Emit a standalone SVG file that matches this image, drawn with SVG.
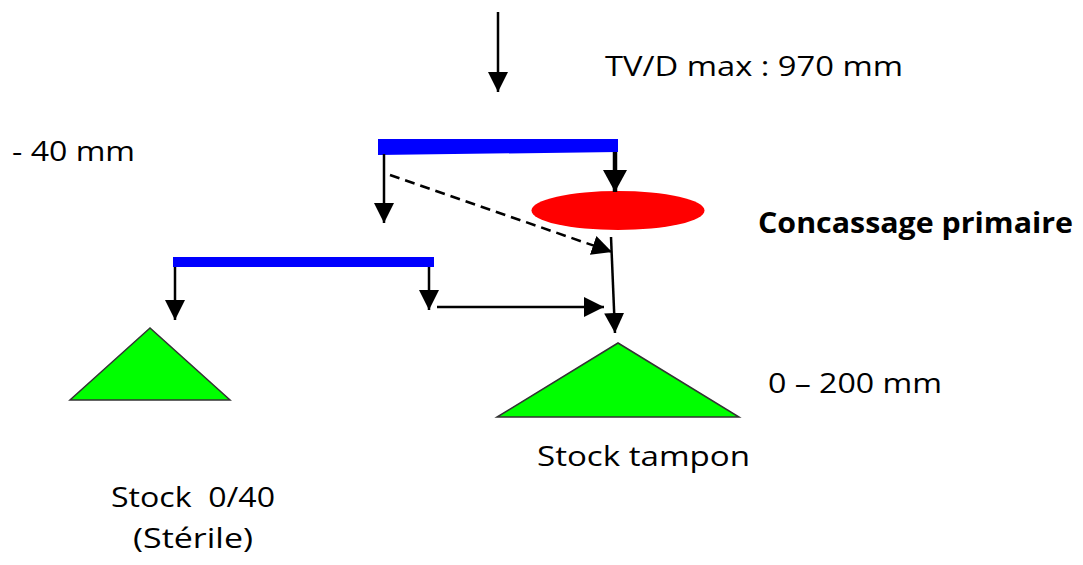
<svg xmlns="http://www.w3.org/2000/svg" width="1083" height="565" viewBox="0 0 1083 565">
<style>
.t{font-family:"Open Sans","Liberation Sans",Arial,sans-serif;font-size:28px;fill:#000;white-space:pre}
.b{font-weight:bold}
.ln{stroke:#000;stroke-width:2.5;fill:none}
.bar{fill:#0000ff}
.pile{fill:#00ff00;stroke:#333;stroke-width:1.5}
</style>
<defs>
<marker id="ah" viewBox="0 0 20 20" refX="20" refY="10" markerWidth="20" markerHeight="20" markerUnits="userSpaceOnUse" orient="auto">
<path d="M0,0 L20,10 L0,20 z" fill="#000"/>
</marker>
<marker id="ahb" viewBox="0 0 22 24" refX="22" refY="12" markerWidth="22" markerHeight="24" markerUnits="userSpaceOnUse" orient="auto">
<path d="M0,0 L22,12 L0,24 z" fill="#000"/>
</marker>
</defs>
<rect width="1083" height="565" fill="#fff"/>
<g id="feed"><text class="t" x="605" y="76" textLength="298" lengthAdjust="spacingAndGlyphs">TV/D max : 970 mm</text></g>
<g id="label-40"><text class="t" x="12" y="161" textLength="123" lengthAdjust="spacingAndGlyphs">- 40 mm</text></g>
<g id="screen1"><polygon class="bar" points="378,139 618,139 618,152 378,155"/></g>
<g id="screen2"><polygon class="bar" points="173,257 434,257 434,267 173,267"/></g>
<g id="crusher">
<ellipse cx="618" cy="210.5" rx="86.5" ry="19.5" fill="#ff0000"/>
<text class="t b" x="758" y="233" textLength="315" lengthAdjust="spacingAndGlyphs">Concassage primaire</text>
</g>
<g id="stock-tampon">
<polygon class="pile" points="618,343 497,417 739,417"/>
<text class="t" x="768" y="393" textLength="174" lengthAdjust="spacingAndGlyphs">0 – 200 mm</text>
<text class="t" x="537" y="466" textLength="213" lengthAdjust="spacingAndGlyphs">Stock tampon</text>
</g>
<g id="stock-040">
<polygon class="pile" points="150,328 70,400 230,400"/>
<text class="t" x="111" y="507" textLength="164" lengthAdjust="spacingAndGlyphs" xml:space="preserve">Stock  0/40</text>
<text class="t" x="133" y="548" textLength="120" lengthAdjust="spacingAndGlyphs">(Stérile)</text>
</g>
<g id="connectors">
<line class="ln" x1="498" y1="12" x2="498" y2="92" marker-end="url(#ah)"/>
<line class="ln" x1="384" y1="154" x2="384" y2="223" marker-end="url(#ah)"/>
<line stroke="#000" stroke-width="4.5" x1="615" y1="152" x2="615" y2="192" marker-end="url(#ahb)"/>
<line class="ln" x1="390" y1="175" x2="612" y2="252" stroke-dasharray="10,6" marker-end="url(#ah)"/>
<line class="ln" x1="611" y1="237" x2="615" y2="333" marker-end="url(#ah)"/>
<line class="ln" x1="175" y1="267" x2="175" y2="320" marker-end="url(#ah)"/>
<line class="ln" x1="429" y1="267" x2="429" y2="310" marker-end="url(#ah)"/>
<line class="ln" x1="437" y1="307" x2="604" y2="307" marker-end="url(#ah)"/>
</g>
</svg>
